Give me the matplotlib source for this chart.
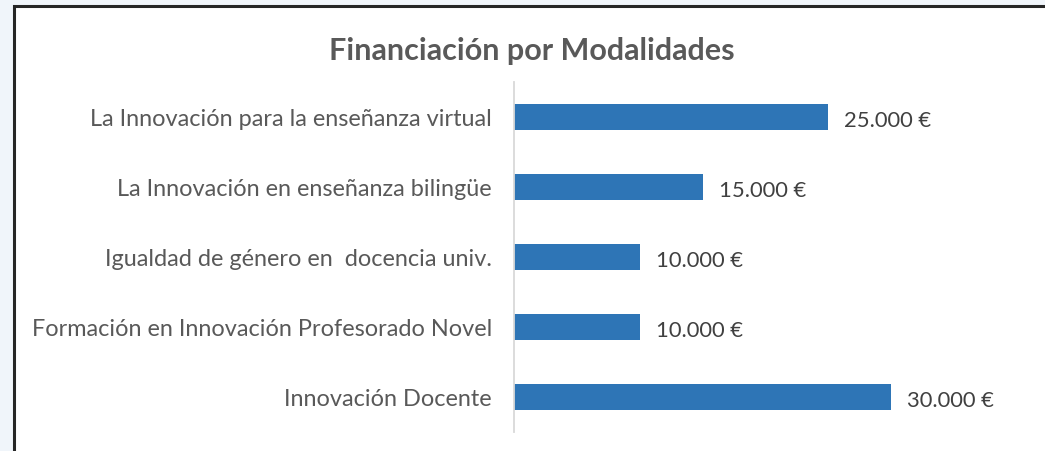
import matplotlib
matplotlib.use("Agg")
import matplotlib.pyplot as plt
from matplotlib.patches import Rectangle

categories = [
    "Innovación Docente",
    "Formación en Innovación Profesorado Novel",
    "Igualdad de género en  docencia univ.",
    "La Innovación en enseñanza bilingüe",
    "La Innovación para la enseñanza virtual",
]
values = [30000, 10000, 10000, 15000, 25000]
value_labels = ["30.000 €", "10.000 €", "10.000 €", "15.000 €", "25.000 €"]
title = "Financiación por Modalidades"

W, H = 1045, 452
fig = plt.figure(figsize=(W / 100, H / 100), dpi=100)
fig.patch.set_facecolor("#F0F5FA")

bg = fig.add_axes([0, 0, 1, 1], zorder=-5)
bg.set_xlim(0, W)
bg.set_ylim(H, 0)
bg.axis("off")
bg.add_patch(Rectangle((14, 7), W + 20, H + 20, facecolor="white",
                       edgecolor="#262626", linewidth=2.2))

font = "Lato"
ax = fig.add_axes([514 / W, 1 - 433 / H, 440 / W, 350 / H], zorder=1)
ax.set_facecolor("none")
ax.barh(range(len(categories)), values, height=0.36, color="#2E75B6", zorder=2)
ax.set_ylim(-0.5, len(categories) - 0.5)
ax.set_xlim(0, 35000)
ax.set_yticks(range(len(categories)))
ax.set_yticklabels(categories, fontsize=16.9, color="#595959", fontfamily=font)
ax.tick_params(axis="y", length=0, pad=15.8)
ax.set_xticks([])
for s in ["top", "right", "bottom"]:
    ax.spines[s].set_visible(False)
ax.spines["left"].set_color("#D9D9D9")
ax.spines["left"].set_linewidth(1.3)

for i, (v, lab) in enumerate(zip(values, value_labels)):
    ax.annotate(lab, (v, i), xytext=(11.5, -2.5), textcoords="offset points",
                va="center", ha="left", fontsize=15.8, color="#404040",
                fontfamily=font, annotation_clip=False)

fig.text(532 / W, 1 - 51 / H, title, ha="center", va="center", fontsize=22,
         fontweight="bold", color="#595959", fontfamily=font)

fig.savefig("out.png", dpi=100, facecolor=fig.get_facecolor())
